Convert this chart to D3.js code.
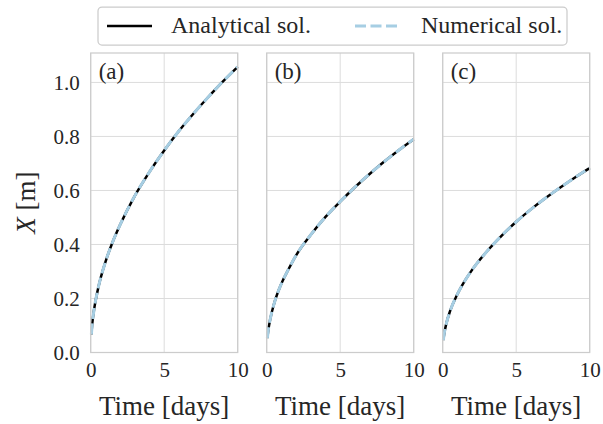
<!DOCTYPE html>
<html><head><meta charset="utf-8">
<script src="https://cdn.jsdelivr.net/npm/d3@7"></script>
<style>body{margin:0;background:#fff}svg{display:block}</style>
</head><body>
<svg id="c" width="603" height="424"></svg>
<script>
// ---- data ----
const panelLabels = ["(a)", "(b)", "(c)"];
const time = [0.045, 0.1, 0.25, 0.5, 1, 1.5, 2, 3, 4, 5, 6, 7, 8, 9, 10];
const analyticalA = [0.067, 0.104, 0.166, 0.236, 0.335, 0.41, 0.473, 0.58, 0.669, 0.748, 0.82, 0.885, 0.946, 1.004, 1.058];
const analyticalB = [0.053, 0.079, 0.126, 0.18, 0.255, 0.31, 0.36, 0.436, 0.502, 0.559, 0.612, 0.661, 0.707, 0.75, 0.79];
const analyticalC = [0.046, 0.068, 0.108, 0.153, 0.216, 0.265, 0.306, 0.374, 0.432, 0.484, 0.53, 0.572, 0.611, 0.648, 0.683];
const numericalA = analyticalA.slice();
const numericalB = analyticalB.slice();
const numericalC = analyticalC.slice();
const xTicks = [0, 5, 10];
const yTicks = [0, 0.2, 0.4, 0.6, 0.8, 1.0];
const seriesNames = ["Analytical sol.", "Numerical sol."];

// ---- layout ----
const svg = d3.select("#c");
const serif = "'Liberation Serif', serif";
const textCol = "#262626";
const panelLeft = [90.7, 266.7, 442.7];
const panelW = 147;
const plotTop = 53, plotBottom = 352.5;
const y = d3.scaleLinear().domain([0, 1.109]).range([plotBottom, plotTop]);
const analytical = [analyticalA, analyticalB, analyticalC];
const numerical = [numericalA, numericalB, numericalC];

panelLabels.forEach((lab, i) => {
  const x = d3.scaleLinear().domain([0, 10]).range([panelLeft[i], panelLeft[i] + panelW]);
  const g = svg.append("g");
  // grid
  g.selectAll(".gy").data(yTicks).join("line")
    .attr("x1", x(0)).attr("x2", x(10)).attr("y1", d => y(d)).attr("y2", d => y(d))
    .attr("stroke", "#dcdcdc").attr("stroke-width", 1);
  g.selectAll(".gx").data(xTicks).join("line")
    .attr("x1", d => x(d)).attr("x2", d => x(d)).attr("y1", plotTop).attr("y2", plotBottom)
    .attr("stroke", "#dcdcdc").attr("stroke-width", 1);
  // lines
  const pts = k => time.map((t, j) => [t, k[j]]);
  const line = d3.line().x(d => x(d[0])).y(d => y(d[1])).curve(d3.curveMonotoneX);
  g.append("path").attr("d", line(pts(analytical[i]))).attr("fill", "none")
    .attr("stroke", "#000").attr("stroke-width", 2.5);
  g.append("path").attr("d", line(pts(numerical[i]))).attr("fill", "none")
    .attr("stroke", "#a6cee3").attr("stroke-width", 3).attr("stroke-dasharray", "11,4.5");
  // frame
  g.append("rect").attr("x", x(0)).attr("y", plotTop).attr("width", panelW).attr("height", plotBottom - plotTop)
    .attr("fill", "none").attr("stroke", "#cccccc").attr("stroke-width", 1.25);
  // x axis tick labels
  const xa = g.append("g").attr("transform", `translate(0,${plotBottom})`)
    .call(d3.axisBottom(x).tickValues(xTicks).tickSize(0).tickPadding(0).tickFormat(d3.format("d")));
  xa.select(".domain").remove();
  xa.selectAll("text").attr("y", 24.5).attr("dy", null).attr("font-family", serif).attr("font-size", 21).attr("fill", textCol);
  // x axis label
  g.append("text").attr("x", x(5)).attr("y", 415).attr("text-anchor", "middle")
    .attr("font-family", serif).attr("font-size", 27).attr("fill", textCol).text("Time [days]");
  // panel label
  g.append("text").attr("x", x(0) + 8).attr("y", 79).attr("font-family", serif)
    .attr("font-size", 23).attr("fill", textCol).text(lab);
  if (i === 0) {
    const ya = g.append("g").attr("transform", `translate(${x(0)},0)`)
      .call(d3.axisLeft(y).tickValues(yTicks).tickSize(0).tickPadding(11).tickFormat(d3.format(".1f")));
    ya.select(".domain").remove();
    ya.selectAll("text").attr("font-family", serif).attr("font-size", 21).attr("fill", textCol).attr("dy", "0.34em");
    const yl = g.append("text").attr("transform", `translate(35,${(plotTop + plotBottom) / 2}) rotate(-90)`)
      .attr("text-anchor", "middle").attr("font-family", serif).attr("font-size", 27).attr("fill", textCol);
    yl.append("tspan").attr("font-style", "italic").text("X");
    yl.append("tspan").text(" [m]");
  }
});

// legend
const lg = svg.append("g");
lg.append("rect").attr("x", 98).attr("y", 7).attr("width", 469).attr("height", 38).attr("rx", 4)
  .attr("fill", "#fff").attr("stroke", "#cccccc").attr("stroke-width", 1.25);
lg.append("line").attr("x1", 107).attr("x2", 152).attr("y1", 26).attr("y2", 26).attr("stroke", "#000").attr("stroke-width", 2.7);
lg.append("text").attr("x", 171).attr("y", 33).attr("font-family", serif).attr("font-size", 24).attr("fill", textCol).text(seriesNames[0]);
lg.append("line").attr("x1", 355).attr("x2", 398).attr("y1", 26).attr("y2", 26).attr("stroke", "#a6cee3").attr("stroke-width", 3).attr("stroke-dasharray", "11,4.5");
lg.append("text").attr("x", 421).attr("y", 33).attr("font-family", serif).attr("font-size", 24).attr("fill", textCol).text(seriesNames[1]);
</script>
</body></html>
